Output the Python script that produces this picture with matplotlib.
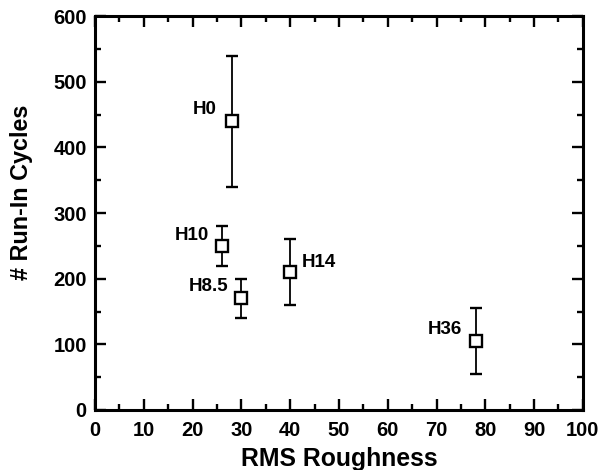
import matplotlib
matplotlib.use("Agg")
import matplotlib.pyplot as plt
from matplotlib.ticker import MultipleLocator

plt.rcParams["font.family"] = ["Liberation Sans", "DejaVu Sans"]
plt.rcParams["font.weight"] = "bold"

# data
labels = ["H0", "H10", "H8.5", "H14", "H36"]
roughness = [28, 26, 30, 40, 78]
cycles = [440, 250, 170, 210, 105]
errors = [100, 30, 30, 50, 50]

# label placement (data coords, alignment)
label_pos = [(25, 457, "right"), (23.3, 266, "right"), (27.4, 188, "right"),
             (42.3, 224, "left"), (75.2, 123, "right")]

fig = plt.figure(figsize=(6.11, 4.70), dpi=100)
ax = fig.add_axes([0.1555, 0.1277, 0.7985, 0.838])

ax.errorbar(roughness, cycles, yerr=errors, fmt="s", color="black",
            mfc="white", mec="black", ms=8, mew=1.7, elinewidth=1.3,
            capsize=4, capthick=1.3, zorder=3)

for lab, (x, y, ha) in zip(labels, label_pos):
    ax.text(x, y, lab, ha=ha, va="center", fontsize=13.5, fontweight="bold")

ax.set_xlim(0, 100)
ax.set_ylim(0, 600)
ax.xaxis.set_major_locator(MultipleLocator(10))
ax.xaxis.set_minor_locator(MultipleLocator(5))
ax.yaxis.set_major_locator(MultipleLocator(100))
ax.yaxis.set_minor_locator(MultipleLocator(50))

ax.tick_params(which="both", direction="in", top=True, right=True,
               width=1.7, labelsize=14.5)
ax.tick_params(axis="x", pad=8)
ax.tick_params(axis="y", pad=6)
ax.tick_params(which="major", length=8)
ax.tick_params(which="minor", length=4)
for lbl in ax.get_xticklabels() + ax.get_yticklabels():
    lbl.set_fontweight("bold")
for s in ax.spines.values():
    s.set_linewidth(2.2)

ax.set_xlabel("RMS Roughness", fontsize=17.8, fontweight="bold", labelpad=5)
ax.set_ylabel("# Run-In Cycles", fontsize=16.8, fontweight="bold")
ax.yaxis.set_label_coords(-0.127, 0.553)

fig.savefig("out.png", dpi=100)
